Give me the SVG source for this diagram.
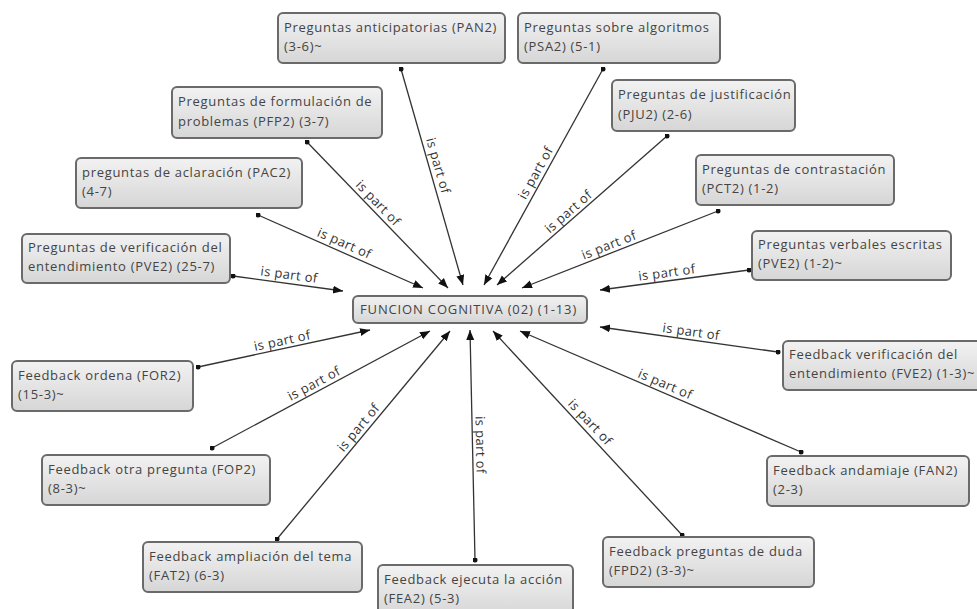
<svg xmlns="http://www.w3.org/2000/svg" width="977" height="609" viewBox="0 0 977 609">
<defs>
<linearGradient id="g" x1="0" y1="0" x2="0" y2="1">
<stop offset="0" stop-color="#f2f2f2"/>
<stop offset="1" stop-color="#d6d6d6"/>
</linearGradient>
<marker id="arr" viewBox="0 0 10 10" refX="10" refY="5" markerWidth="10" markerHeight="10" markerUnits="userSpaceOnUse" orient="auto">
<path d="M0,1 L10,5 L0,9 Z" fill="#111"/>
</marker>
<marker id="dot" viewBox="0 0 6 6" refX="3" refY="3" markerWidth="5" markerHeight="5" markerUnits="userSpaceOnUse">
<circle cx="3" cy="3" r="3" fill="#111"/>
</marker>
</defs>
<style>
.box{fill:url(#g);stroke:#6a6a6a;stroke-width:2}
.t{font-family:"Open Sans","DejaVu Sans",sans-serif;font-size:13px;letter-spacing:0.7px;fill:#444}
.c{stroke:#333;stroke-width:1.3;fill:none;marker-start:url(#dot);marker-end:url(#arr)}
.l{font-family:"Open Sans","DejaVu Sans",sans-serif;font-size:13px;letter-spacing:0.4px;fill:#333;text-anchor:middle}
</style>
<rect width="977" height="609" fill="#fff"/>

<g id="connectors">
<line class="c" x1="401" y1="69" x2="463" y2="285"/>
<line class="c" x1="603" y1="69" x2="484" y2="285"/>
<line class="c" x1="667" y1="136" x2="497" y2="285"/>
<line class="c" x1="718" y1="211" x2="522" y2="288"/>
<line class="c" x1="749" y1="270" x2="600" y2="290"/>
<line class="c" x1="307" y1="142" x2="448" y2="288"/>
<line class="c" x1="258" y1="215" x2="423" y2="288"/>
<line class="c" x1="233" y1="276" x2="343" y2="291"/>
<line class="c" x1="198" y1="367" x2="370" y2="330"/>
<line class="c" x1="212" y1="448" x2="430" y2="331"/>
<line class="c" x1="277" y1="539" x2="450" y2="331"/>
<line class="c" x1="475" y1="560" x2="470" y2="330"/>
<line class="c" x1="682" y1="535" x2="493" y2="331"/>
<line class="c" x1="801" y1="452" x2="520" y2="331"/>
<line class="c" x1="778" y1="352" x2="600" y2="327"/>

<text class="l" transform="translate(430,168) rotate(74)" y="-4">is part of</text>
<text class="l" transform="translate(543,177) rotate(-61)" y="-4">is part of</text>
<text class="l" transform="translate(574,218) rotate(-41)" y="-4">is part of</text>
<text class="l" transform="translate(612,253) rotate(-21.4)" y="-4">is part of</text>
<text class="l" transform="translate(668,281) rotate(-7.6)" y="-4">is part of</text>
<text class="l" transform="translate(372,209) rotate(46)" y="-4">is part of</text>
<text class="l" transform="translate(341,251) rotate(24)" y="-4">is part of</text>
<text class="l" transform="translate(288,283) rotate(7.8)" y="-4">is part of</text>
<text class="l" transform="translate(284,349) rotate(-12)" y="-4">is part of</text>
<text class="l" transform="translate(318,391) rotate(-28)" y="-4">is part of</text>
<text class="l" transform="translate(365,433) rotate(-50)" y="-4">is part of</text>
<text class="l" transform="translate(472,445) rotate(89)" y="-4">is part of</text>
<text class="l" transform="translate(584,428) rotate(47)" y="-4">is part of</text>
<text class="l" transform="translate(662,392) rotate(23)" y="-4">is part of</text>
<text class="l" transform="translate(690,340) rotate(8)" y="-4">is part of</text>
</g>

<g id="center">
<rect class="box" x="353" y="296" width="234" height="27" rx="5"/>
<text class="t" x="360" y="314" style="letter-spacing:0.85px">FUNCION COGNITIVA (02) (1-13)</text>
</g>
<g id="pan2">
<rect class="box" x="278" y="13" width="227" height="50" rx="5"/>
<text class="t" x="284" y="32">Preguntas anticipatorias (PAN2)</text>
<text class="t" x="284" y="51">(3-6)~</text>
</g>
<g id="psa2">
<rect class="box" x="518" y="13" width="202" height="50" rx="5"/>
<text class="t" x="524" y="32">Preguntas sobre algoritmos</text>
<text class="t" x="524" y="51">(PSA2) (5-1)</text>
</g>
<g id="pfp2">
<rect class="box" x="172" y="87" width="210" height="51" rx="5"/>
<text class="t" x="178" y="106">Preguntas de formulación de</text>
<text class="t" x="178" y="126">problemas (PFP2) (3-7)</text>
</g>
<g id="pju2">
<rect class="box" x="612" y="80" width="183" height="51" rx="5"/>
<text class="t" x="618" y="99">Preguntas de justificación</text>
<text class="t" x="618" y="119">(PJU2) (2-6)</text>
</g>
<g id="pac2">
<rect class="box" x="76" y="158" width="226" height="50" rx="5"/>
<text class="t" x="82" y="177">preguntas de aclaración (PAC2)</text>
<text class="t" x="82" y="196">(4-7)</text>
</g>
<g id="pct2">
<rect class="box" x="696" y="155" width="198" height="50" rx="5"/>
<text class="t" x="702" y="174">Preguntas de contrastación</text>
<text class="t" x="702" y="193">(PCT2) (1-2)</text>
</g>
<g id="pve2-left">
<rect class="box" x="22" y="234" width="208" height="49" rx="5"/>
<text class="t" x="28" y="252">Preguntas de verificación del</text>
<text class="t" x="28" y="271">entendimiento (PVE2) (25-7)</text>
</g>
<g id="pve2-right">
<rect class="box" x="752" y="231" width="199" height="49" rx="5"/>
<text class="t" x="758" y="249">Preguntas verbales escritas</text>
<text class="t" x="758" y="268">(PVE2) (1-2)~</text>
</g>
<g id="for2">
<rect class="box" x="12" y="361" width="181" height="50" rx="5"/>
<text class="t" x="18" y="380">Feedback ordena (FOR2)</text>
<text class="t" x="18" y="399">(15-3)~</text>
</g>
<g id="fve2">
<rect class="box" x="783" y="341" width="200" height="49" rx="5"/>
<text class="t" x="789" y="359">Feedback verificación del</text>
<text class="t" x="789" y="378">entendimiento (FVE2) (1-3)~</text>
</g>
<g id="fop2">
<rect class="box" x="42" y="455" width="228" height="50" rx="5"/>
<text class="t" x="48" y="474">Feedback otra pregunta (FOP2)</text>
<text class="t" x="48" y="493">(8-3)~</text>
</g>
<g id="fan2">
<rect class="box" x="767" y="456" width="202" height="50" rx="5"/>
<text class="t" x="773" y="475">Feedback andamiaje (FAN2)</text>
<text class="t" x="773" y="494">(2-3)</text>
</g>
<g id="fat2">
<rect class="box" x="143" y="542" width="219" height="50" rx="5"/>
<text class="t" x="149" y="561">Feedback ampliación del tema</text>
<text class="t" x="149" y="580">(FAT2) (6-3)</text>
</g>
<g id="fea2">
<rect class="box" x="378" y="565" width="195" height="52" rx="5"/>
<text class="t" x="384" y="584">Feedback ejecuta la acción</text>
<text class="t" x="384" y="603">(FEA2) (5-3)</text>
</g>
<g id="fpd2">
<rect class="box" x="603" y="537" width="211" height="50" rx="5"/>
<text class="t" x="609" y="556">Feedback preguntas de duda</text>
<text class="t" x="609" y="575">(FPD2) (3-3)~</text>
</g>
</svg>
